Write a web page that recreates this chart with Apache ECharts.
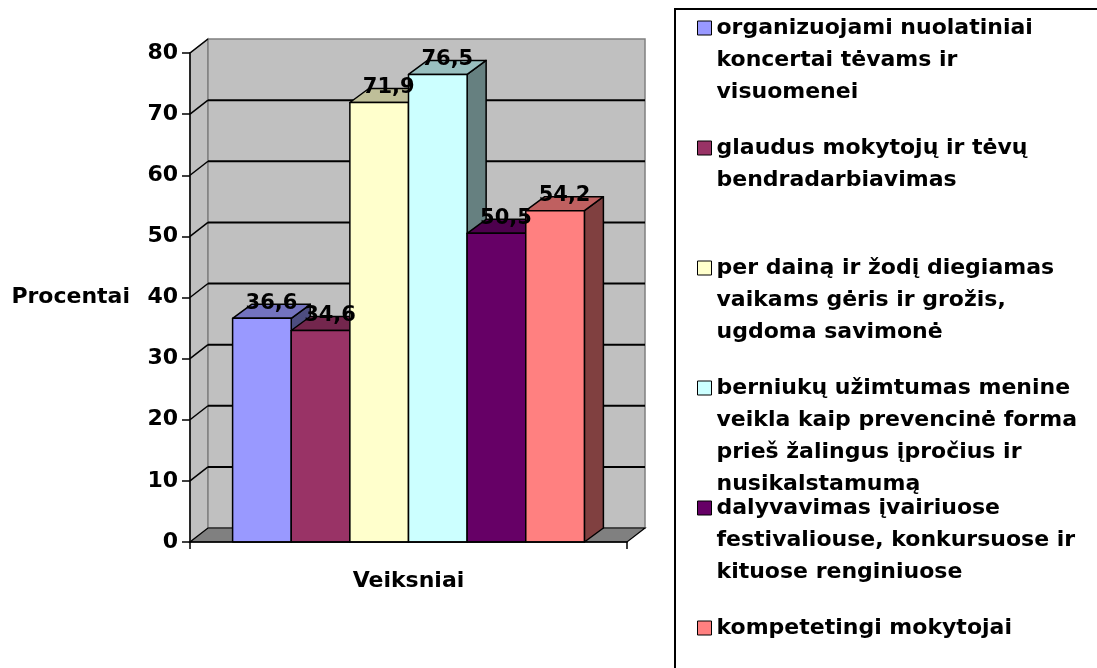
<!DOCTYPE html>
<html>
<head>
<meta charset="utf-8">
<title>Veiksniai</title>
<script src="https://cdn.jsdelivr.net/npm/echarts@6/dist/echarts.min.js"></script>
<style>
  html, body { margin: 0; padding: 0; background: #fff; }
  #chart { width: 1097px; height: 668px; }
</style>
</head>
<body>
<div id="chart"></div>
<script>
var categoryName = 'Veiksniai';
var valueAxisName = 'Procentai';
var factorNames = [
    'organizuojami nuolatiniai\nkoncertai tėvams ir\nvisuomenei',
    'glaudus mokytojų ir tėvų\nbendradarbiavimas',
    'per dainą ir žodį diegiamas\nvaikams gėris ir grožis,\nugdoma savimonė',
    'berniukų užimtumas menine\nveikla kaip prevencinė forma\nprieš žalingus įpročius ir\nnusikalstamumą',
    'dalyvavimas įvairiuose\nfestivaliouse, konkursuose ir\nkituose renginiuose',
    'kompetetingi mokytojai'
];
var values = [36.6, 34.6, 71.9, 76.5, 50.5, 54.2];
var barColors = ['#9999FF', '#993366', '#FFFFCC', '#CCFFFF', '#660066', '#FF8080'];
var yTicks = [0, 10, 20, 30, 40, 50, 60, 70, 80];

var FONT = '"DejaVu Sans", "Liberation Sans", Arial, sans-serif';
var WALL_DX = 18, WALL_DY = 14;
var BAR_DX = 19, BAR_DY = 14;
var LINE_H = 32;

function shade(hex, k) {
    var n = parseInt(hex.slice(1), 16);
    var r = Math.round(((n >> 16) & 255) * k);
    var g = Math.round(((n >> 8) & 255) * k);
    var b = Math.round((n & 255) * k);
    return 'rgb(' + r + ',' + g + ',' + b + ')';
}

function formatValue(v) {
    return v.toFixed(1).replace('.', ',');
}

// gray side wall, back wall, floor and the back-wall grid lines
function renderWalls(params, api) {
    var cs = params.coordSys;
    var x = cs.x, y = cs.y, w = cs.width, h = cs.height, b = y + h;
    var children = [
        {
            type: 'polygon',
            shape: { points: [[x, y], [x + WALL_DX, y - WALL_DY], [x + WALL_DX, b - WALL_DY], [x, b]] },
            style: { fill: '#C0C0C0', stroke: '#808080', lineWidth: 1.5 }
        },
        {
            type: 'rect',
            shape: { x: x + WALL_DX, y: y - WALL_DY, width: w, height: h },
            style: { fill: '#C0C0C0', stroke: '#808080', lineWidth: 1.5 }
        },
        {
            type: 'polygon',
            shape: { points: [[x, b], [x + w, b], [x + w + WALL_DX, b - WALL_DY], [x + WALL_DX, b - WALL_DY]] },
            style: { fill: '#808080', stroke: '#000', lineWidth: 1.2 }
        }
    ];
    for (var i = 0; i < yTicks.length; i++) {
        var v = yTicks[i];
        if (v === 0)
            continue;
        var p = api.coord([0, v]);
        if (v !== yTicks[yTicks.length - 1]) {
            children.push({
                type: 'line',
                shape: { x1: x + WALL_DX, y1: p[1] - WALL_DY, x2: x + w + WALL_DX, y2: p[1] - WALL_DY },
                style: { stroke: '#000', lineWidth: 2 }
            });
        }
        children.push({
            type: 'line',
            shape: { x1: x, y1: p[1], x2: x + WALL_DX, y2: p[1] - WALL_DY },
            style: { stroke: '#000', lineWidth: 1.5 }
        });
    }
    return { type: 'group', children: children };
}

function barRenderer(idx) {
    return function (params, api) {
        var band = api.size([1, 0])[0];
        var groupW = band * 0.805;
        var bw = groupW / values.length;
        var base = api.coord([api.value(0), 0]);
        var top = api.coord([api.value(0), api.value(1)]);
        var x0 = base[0] - groupW / 2 + idx * bw, x1 = x0 + bw;
        var y0 = base[1], y1 = top[1];
        var col = barColors[idx];
        var edge = { stroke: '#000', lineWidth: 1.5, lineJoin: 'round' };
        return {
            type: 'group',
            children: [
                {
                    type: 'polygon',
                    shape: { points: [[x1, y1], [x1 + BAR_DX, y1 - BAR_DY], [x1 + BAR_DX, y0 - BAR_DY], [x1, y0]] },
                    style: echarts.util.extend({ fill: shade(col, 0.5) }, edge)
                },
                {
                    type: 'polygon',
                    shape: { points: [[x0, y1], [x1, y1], [x1 + BAR_DX, y1 - BAR_DY], [x0 + BAR_DX, y1 - BAR_DY]] },
                    style: echarts.util.extend({ fill: shade(col, 0.75) }, edge)
                },
                {
                    type: 'rect',
                    shape: { x: x0, y: y1, width: bw, height: y0 - y1 },
                    style: echarts.util.extend({ fill: col }, edge)
                },
                {
                    type: 'text',
                    z2: 100,
                    style: {
                        text: formatValue(api.value(1)),
                        x: x0 + bw / 2 + BAR_DX / 2,
                        y: y1 - BAR_DY - 1,
                        align: 'center',
                        verticalAlign: 'middle',
                        fontFamily: FONT,
                        fontWeight: 'bold',
                        fontSize: 21,
                        fill: '#000'
                    }
                }
            ]
        };
    };
}

var series = [{
    type: 'custom',
    name: 'walls',
    silent: true,
    renderItem: renderWalls,
    data: [[0, 0]]
}];
for (var i = 0; i < values.length; i++) {
    series.push({
        type: 'custom',
        name: factorNames[i],
        silent: true,
        itemStyle: { color: barColors[i] },
        renderItem: barRenderer(i),
        encode: { x: 0, y: 1 },
        data: [[0, values[i]]]
    });
}

// one legend per factor so every entry sits on its own fixed slot;
// blank lines in front keep the marker level with the first text line
var legends = factorNames.map(function (name, i) {
    var n = name.split('\n').length;
    var pad = new Array(n).join('\n');
    return {
        data: [name],
        orient: 'vertical',
        left: 697,
        top: 28 + 120 * i - LINE_H * n + LINE_H / 2,
        padding: 0,
        icon: 'rect',
        itemWidth: 14,
        itemHeight: 14,
        selectedMode: false,
        itemStyle: { borderColor: '#000', borderWidth: 1 },
        formatter: function (label) { return pad + label; },
        textStyle: {
            fontFamily: FONT,
            fontWeight: 'bold',
            fontSize: 22,
            lineHeight: LINE_H,
            color: '#000'
        }
    };
});

var chart = echarts.init(document.getElementById('chart'), null, { renderer: 'canvas' });
chart.setOption({
    animation: false,
    backgroundColor: '#fff',
    grid: { left: 190, top: 53, right: 470, bottom: 126 },
    xAxis: {
        type: 'category',
        data: [categoryName],
        z: 10,
        name: categoryName,
        nameLocation: 'middle',
        nameGap: 28,
        nameTextStyle: { fontFamily: FONT, fontWeight: 'bold', fontSize: 22, color: '#000' },
        axisLine: { lineStyle: { color: '#000', width: 1.5 } },
        axisTick: { show: true, length: 7, lineStyle: { color: '#000', width: 1.5 } },
        axisLabel: { show: false },
        splitLine: { show: false }
    },
    yAxis: {
        type: 'value',
        min: 0,
        max: 80,
        interval: 10,
        z: 10,
        name: valueAxisName,
        nameLocation: 'middle',
        nameRotate: 0,
        nameGap: 60,
        nameTextStyle: { fontFamily: FONT, fontWeight: 'bold', fontSize: 22, color: '#000' },
        axisLine: { show: true, lineStyle: { color: '#000', width: 1.5 } },
        axisTick: { show: true, length: 8, lineStyle: { color: '#000', width: 1.5 } },
        axisLabel: { margin: 12, fontFamily: FONT, fontWeight: 'bold', fontSize: 22, color: '#000' },
        splitLine: { show: false }
    },
    legend: legends,
    graphic: [{
        type: 'rect',
        shape: { x: 675, y: 9, width: 600, height: 700 },
        style: { fill: 'none', stroke: '#000', lineWidth: 2 },
        silent: true
    }],
    series: series
});
</script>
</body>
</html>
